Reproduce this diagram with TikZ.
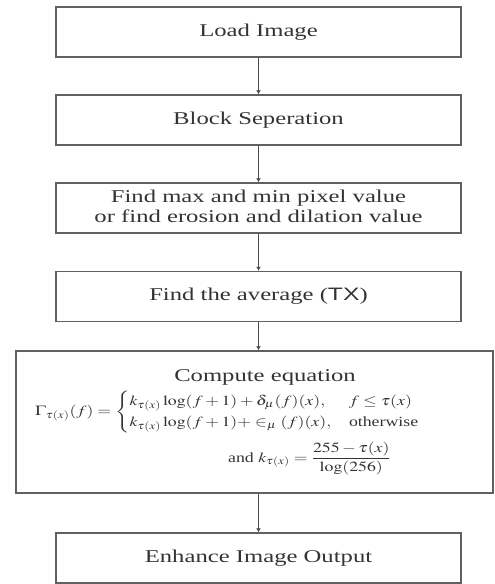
\documentclass[tikz,border=0pt]{standalone}
\usepackage{mathptmx}
\usepackage{fontspec}
\setmainfont{Liberation Serif}
\newfontfamily\tfsans{Liberation Sans}
\usepackage{amsmath}
\usetikzlibrary{arrows.meta}
\newcommand{\hs}[1]{\scalebox{1.37}[1]{#1}}
\newcommand{\hse}[1]{\scalebox{1.27}[1]{#1}}
\tikzset{
  boxst/.style={draw=black!62, line width=1.5pt, minimum width=405pt, minimum height=50pt, inner sep=0pt, text=black!80, font=\fontsize{18}{21.5}\selectfont, align=center},
  arr/.style={draw=black!70, line width=1.2pt, -{Latex[length=4pt,width=5pt]}}
}
\begin{document}
\begin{tikzpicture}[x=1pt,y=-1pt]
\useasboundingbox (0,0) rectangle (495,584);
\node[boxst] (b1) at (258.5,32) {\hs{Load Image}};
\node[boxst] (b2) at (258.5,120) {\hs{Block Seperation}};
\node[boxst] (b3) at (258.5,208) {\hs{\begin{tabular}{@{}c@{}}Find max and min pixel value\\[-1pt]or find erosion and dilation value\end{tabular}}};
\node[boxst] (b4) at (258.5,296.5) {\hs{Find the average ({\tfsans TX})}};
\node[boxst, minimum width=477pt, minimum height=142pt] (b5) at (254.5,422) {};
\node[text=black!80, font=\fontsize{18}{21.5}\selectfont, anchor=base, inner sep=1pt] (t5) at (265,381) {\hs{Compute equation}};
\node[text=black!80, font=\fontsize{14}{17}\selectfont, anchor=west, inner sep=0pt] (eq) at (35,412) {\hse{$\Gamma_{\tau(x)}(f) = \begin{cases} k_{\tau(x)}\log(f+1) + \delta_\mu(f)(x), & f \le \tau(x)\\[1pt] k_{\tau(x)}\log(f+1) + \in_\mu(f)(x), & \text{otherwise}\end{cases}$}};
\node[text=black!80, font=\fontsize{14}{17}\selectfont, anchor=base west, inner sep=0pt] (eq2) at (228,462) {\hse{and $k_{\tau(x)} = \dfrac{255-\tau(x)}{\log(256)}$}};
\node[boxst] (b6) at (258.5,558) {\hs{Enhance Image Output}};
\draw[arr] (b1) -- (b2);
\draw[arr] (b2) -- (b3);
\draw[arr] (b3) -- (b4);
\draw[arr] (b4.south) -- (b4.south |- b5.north);
\draw[arr] (b5.south -| b6.north) -- (b6);
\end{tikzpicture}
\end{document}
